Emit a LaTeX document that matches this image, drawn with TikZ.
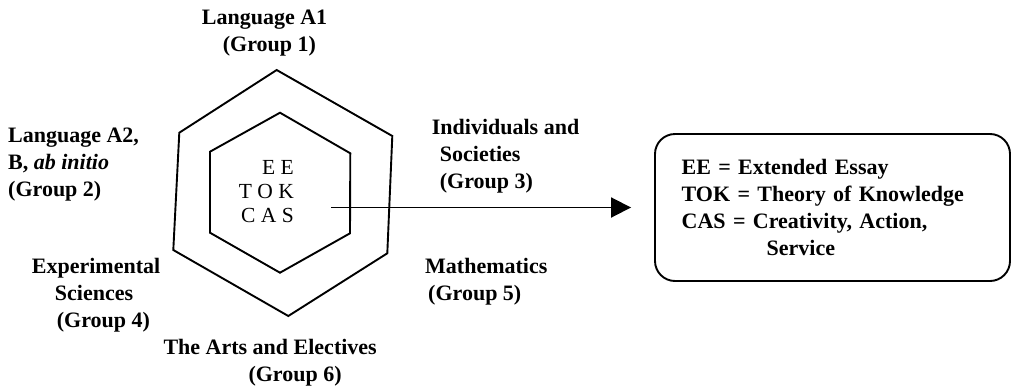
\documentclass[tikz,border=0pt]{standalone}
\usepackage{fontspec}
\setmainfont{Liberation Serif}
\usepackage{tikz}
\usetikzlibrary{arrows.meta}

\tikzset{
    grouplabel/.style={anchor=north west, inner sep=0pt, align=left, font=\bfseries\fontsize{22}{27}\selectfont},
    hexline/.style={line width=1.9pt, line join=miter}
}

\begin{document}
\begin{tikzpicture}[x=1pt, y=-1pt]

        \useasboundingbox (0,0) rectangle (1012,391);

        \draw[hexline] (276.7,70) -- (392.3,136) -- (387.3,253.3) -- (288.3,316) -- (173.3,250) -- (179.3,132.7) -- cycle;

        \draw[hexline] (280,112.7) -- (350.3,153.3) -- (350,233.3) -- (280,272.7) -- (210,232.7) -- (210,151.7) -- cycle;

        \node[anchor=north east, inner sep=0pt, align=right, font=\fontsize{21.5}{24}\selectfont] (core) at (294,160) {E E\\T O K\\C A S};

        \node[grouplabel] (group1) at (201.7,9.5) {Language A1\\\hspace*{21pt}(Group 1)};

        \node[grouplabel] (group2) at (8,128) {Language A2,\\B, \textit{ab initio}\\(Group 2)};

        \node[grouplabel] (group3) at (431.7,119.5) {Individuals and\\\hspace*{8pt}Societies\\\hspace*{8pt}(Group 3)};

        \node[grouplabel] (group4) at (31.7,258) {Experimental\\\hspace*{23pt}Sciences\\\hspace*{25pt}(Group 4)};

        \node[grouplabel] (group5) at (425,258) {Mathematics\\\hspace*{3pt}(Group 5)};

        \node[grouplabel] (group6) at (163.3,339.5) {The Arts and Electives\\\hspace*{85pt}(Group 6)};

        \node[draw, line width=1.9pt, rounded corners=20pt, minimum width=355pt, minimum height=147pt, text width=301.6pt, inner xsep=26.7pt, align=left, font=\bfseries\fontsize{22}{27}\selectfont] (legend) at (832.5,207.5) {EE = Extended Essay\\TOK = Theory of Knowledge\\CAS = Creativity, Action,\\\hspace*{85pt}Service};

        \coordinate (tail) at (331,207.5);

        \draw[line width=1.9pt, -{Triangle[length=20pt, width=20pt]}, shorten >=23pt] (tail) -- (legend.west);

\end{tikzpicture}
\end{document}
